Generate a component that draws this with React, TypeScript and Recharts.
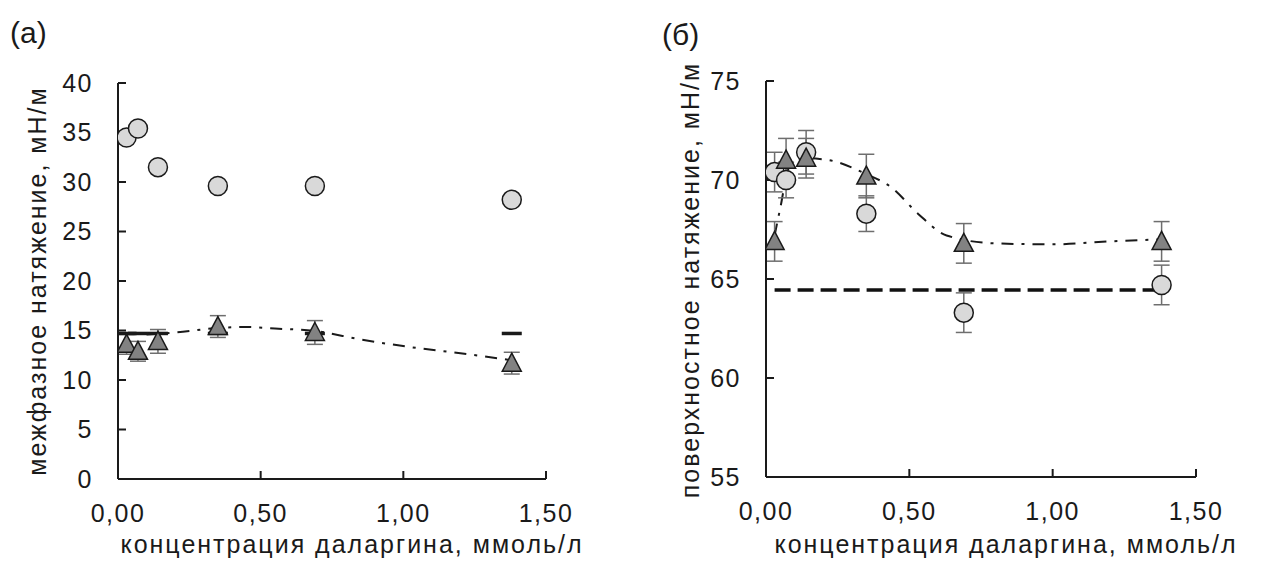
import { ComposedChart, Line, Scatter, ErrorBar, XAxis, YAxis } from 'recharts';

// concentrations, mmol/l
const concentrations = [0.03, 0.07, 0.14, 0.35, 0.69, 1.38];

// (а) interfacial tension
const leftCircles = [34.5, 35.4, 31.5, 29.6, 29.6, 28.2];
const leftTriangles = [13.6, 12.9, 13.9, 15.4, 14.8, 11.7];
const leftTriangleErr = [1.0, 1.0, 1.2, 1.1, 1.2, 1.1];
const leftControl = [14.7, 14.7, 14.7, 14.7, 14.7, 14.7];
const leftTrendX = [0.1, 0.2, 0.35, 0.45, 0.55, 0.69, 0.85, 1.03, 1.2, 1.38];
const leftTrendY = [14.6, 14.8, 15.25, 15.35, 15.2, 14.95, 14.1, 13.3, 12.7, 12.0];

// (б) surface tension
const rightCircles = [70.4, 70.0, 71.4, 68.3, 63.3, 64.7];
const rightCircleErr = [1.0, 0.9, 1.1, 0.9, 1.0, 1.0];
const rightTriangles = [66.9, 71.0, 71.1, 70.2, 66.8, 66.9];
const rightTriangleErr = [1.0, 1.1, 1.0, 1.1, 1.0, 1.0];
const rightControl = [64.45, 64.45, 64.45, 64.45, 64.45, 64.45];
const rightTrendX = [0.03, 0.05, 0.08, 0.14, 0.22, 0.35, 0.44, 0.53, 0.63, 0.8, 1.0, 1.2, 1.38];
const rightTrendY = [67.2, 68.6, 70.6, 71.1, 71.0, 70.3, 69.6, 68.3, 67.2, 66.8, 66.75, 66.9, 67.0];

const xTicks = [0, 0.5, 1, 1.5];
const leftYTicks = [0, 5, 10, 15, 20, 25, 30, 35, 40];
const rightYTicks = [55, 60, 65, 70, 75];

const FONT = '"Liberation Sans", Arial, sans-serif';
const INK = '#1a1a1a';

const zip = (ys: number[], errs?: number[]) =>
  concentrations.map((x, i) => ({ x, y: ys[i], err: errs ? errs[i] : 0 }));
const pairs = (xs: number[], ys: number[]) => xs.map((x, i) => ({ x, y: ys[i] }));

const fmtX = (v: number) => v.toFixed(2).replace('.', ',');

const CircleMark = (p: any) => (
  <circle cx={p.cx} cy={p.cy} r={9.5} fill="#d9d9d9" stroke={INK} strokeWidth={1.5} />
);

const TriangleMark = (p: any) => (
  <path
    d={`M${p.cx},${p.cy - 10} L${p.cx + 9.5},${p.cy + 8} L${p.cx - 9.5},${p.cy + 8} Z`}
    fill="#828282"
    stroke={INK}
    strokeWidth={1.5}
  />
);

const DashMark = (p: any) => (
  <rect x={p.cx - 10} y={p.cy - 1.75} width={20} height={3.5} fill={INK} />
);

const tickStyle = { fill: INK, fontSize: 25, fontFamily: FONT, letterSpacing: 1.5 };

function Panel({
  width,
  margin,
  domain,
  yTicks,
  children,
}: {
  width: number;
  margin: { top: number; right: number; bottom: number; left: number };
  domain: [number, number];
  yTicks: number[];
  children: React.ReactNode;
}) {
  return (
    <ComposedChart width={width} height={572} margin={margin}>
      <XAxis
        dataKey="x"
        type="number"
        domain={[0, 1.5]}
        ticks={xTicks}
        tickFormatter={fmtX}
        height={40}
        tickSize={-8}
        tickMargin={33}
        axisLine={{ stroke: INK, strokeWidth: 2 }}
        tickLine={{ stroke: INK, strokeWidth: 2 }}
        tick={tickStyle}
        allowDataOverflow
      />
      <YAxis
        dataKey="y"
        type="number"
        domain={domain}
        ticks={yTicks}
        width={60}
        tickSize={-8}
        tickMargin={33}
        axisLine={{ stroke: INK, strokeWidth: 2 }}
        tickLine={{ stroke: INK, strokeWidth: 2 }}
        tick={tickStyle}
        allowDataOverflow
      />
      {children}
    </ComposedChart>
  );
}

const textStyle: React.CSSProperties = {
  position: 'absolute',
  fontFamily: FONT,
  fontSize: 25,
  letterSpacing: 2,
  color: INK,
  whiteSpace: 'nowrap',
  lineHeight: 1,
};

export default function App() {
  return (
    <div style={{ position: 'absolute', left: 0, top: 0, width: 1262, height: 572, background: '#fff' }}>
      <div style={{ position: 'absolute', left: 0, top: 0 }}>
        <Panel width={640} margin={{ top: 83, right: 94, bottom: 53, left: 58 }} domain={[0, 40]} yTicks={leftYTicks}>
          <Line
            data={pairs(leftTrendX, leftTrendY)}
            dataKey="y"
            type="monotone"
            stroke={INK}
            strokeWidth={2}
            strokeDasharray="12 8 3 8"
            dot={false}
            isAnimationActive={false}
          />
          <Scatter data={zip(leftControl)} dataKey="y" shape={DashMark} isAnimationActive={false} />
          <Scatter data={zip(leftCircles)} dataKey="y" shape={CircleMark} isAnimationActive={false} />
          <Scatter data={zip(leftTriangles, leftTriangleErr)} dataKey="y" shape={TriangleMark} isAnimationActive={false}>
            <ErrorBar dataKey="err" direction="y" width={8} stroke="#6e6e6e" strokeWidth={1.5} />
          </Scatter>
        </Panel>
      </div>
      <div style={{ position: 'absolute', left: 650, top: 0 }}>
        <Panel width={612} margin={{ top: 81, right: 66, bottom: 55, left: 56 }} domain={[55, 75]} yTicks={rightYTicks}>
          <Line
            data={pairs(rightTrendX, rightTrendY)}
            dataKey="y"
            type="monotone"
            stroke={INK}
            strokeWidth={2}
            strokeDasharray="12 8 3 8"
            dot={false}
            isAnimationActive={false}
          />
          <Line
            data={zip(rightControl)}
            dataKey="y"
            stroke="#111"
            strokeWidth={3.5}
            strokeDasharray="16 7"
            dot={false}
            isAnimationActive={false}
          />
          <Scatter data={zip(rightCircles, rightCircleErr)} dataKey="y" shape={CircleMark} isAnimationActive={false}>
            <ErrorBar dataKey="err" direction="y" width={8} stroke="#6e6e6e" strokeWidth={1.5} />
          </Scatter>
          <Scatter data={zip(rightTriangles, rightTriangleErr)} dataKey="y" shape={TriangleMark} isAnimationActive={false}>
            <ErrorBar dataKey="err" direction="y" width={8} stroke="#6e6e6e" strokeWidth={1.5} />
          </Scatter>
        </Panel>
      </div>

      <div style={{ ...textStyle, left: 10, top: 18, fontSize: 30, letterSpacing: 0 }}>(а)</div>
      <div style={{ ...textStyle, left: 662, top: 20, fontSize: 30, letterSpacing: 0 }}>(б)</div>

      <div style={{ ...textStyle, left: 37, top: 281, transform: 'translate(-50%, -50%) rotate(-90deg)' }}>
        межфазное натяжение, мН/м
      </div>
      <div style={{ ...textStyle, left: 690, top: 280, transform: 'translate(-50%, -50%) rotate(-90deg)' }}>
        поверхностное натяжение, мН/м
      </div>
      <div style={{ ...textStyle, left: 352, top: 544, transform: 'translate(-50%, -50%)' }}>
        концентрация даларгина, ммоль/л
      </div>
      <div style={{ ...textStyle, left: 1006, top: 544, transform: 'translate(-50%, -50%)' }}>
        концентрация даларгина, ммоль/л
      </div>
    </div>
  );
}
